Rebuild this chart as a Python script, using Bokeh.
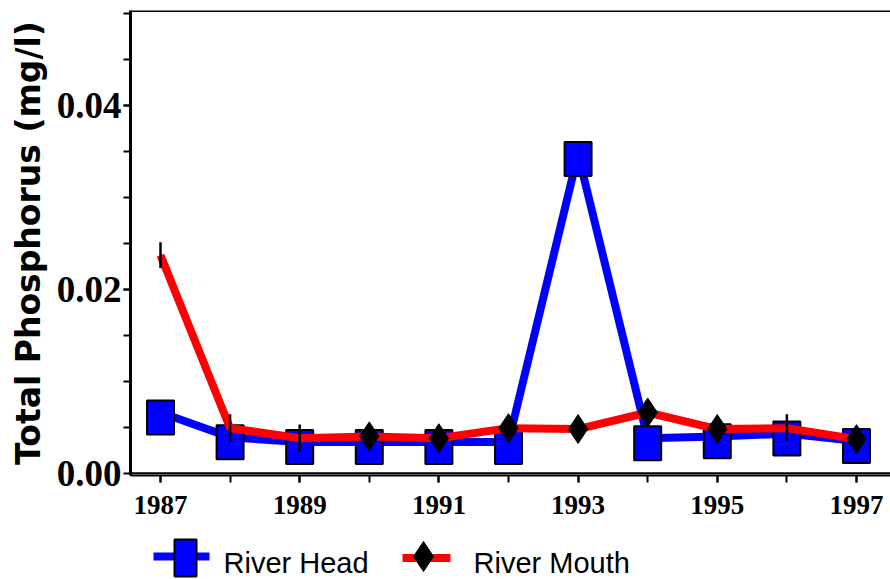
from bokeh.plotting import figure
from bokeh.models import Range1d, FixedTicker, Span
from bokeh.layouts import column
from bokeh.embed import file_html
from bokeh.resources import INLINE
from bokeh.core.properties import value

# ---- data ----
years = [1987, 1988, 1989, 1990, 1991, 1992, 1993, 1994, 1995, 1996, 1997]
river_head = [0.0066, 0.0039, 0.0034, 0.0034, 0.0034, 0.0034, 0.0347, 0.0038, 0.0040, 0.0043, 0.0035]
river_mouth = [0.0237, 0.0049, 0.0038, 0.0040, 0.0038, 0.0049, 0.0048, 0.0066, 0.0048, 0.0049, 0.0037]
mouth_err = [0.0014, 0.0015, 0.0015, 0.0, 0.0, 0.0, 0.0, 0.0, 0.0, 0.0015, 0.0]
mouth_diamond = [False, False, False, True, True, True, True, True, True, False, True]
x_label_years = [1987, 1989, 1991, 1993, 1995, 1997]
x_tick_labels = ["1987", "1989", "1991", "1993", "1995", "1997"]
y_tick_values = [0.0, 0.02, 0.04]
y_tick_labels = ["0.00", "0.02", "0.04"]
y_minor_values = [0.005, 0.01, 0.015, 0.02, 0.025, 0.03, 0.035, 0.04, 0.045, 0.05]
series_names = ["River Head", "River Mouth"]
y_title = "Total Phosphorus (mg/l)"

Y0, Y1 = -0.00025, 0.0503
X0, X1 = 1986.569, 1997.489
MARK_SHIFT = 0.00054

W = 890
H_MAIN = 530
H_LEG = 49

p = figure(width=W, height=H_MAIN, x_range=Range1d(X0, X1), y_range=Range1d(Y0, Y1),
           output_backend="svg", toolbar_location=None,
           min_border_left=130, min_border_right=0, min_border_top=10, min_border_bottom=55)
p.grid.visible = False
p.outline_line_color = None
p.background_fill_color = "white"

# x axis
xa = p.xaxis[0]
xa.ticker = FixedTicker(ticks=x_label_years, minor_ticks=years)
xa.major_label_overrides = {y: s for y, s in zip(x_label_years, x_tick_labels)}
xa.axis_line_width = 2
xa.major_tick_out = 7
xa.major_tick_in = 0
xa.minor_tick_out = 7
xa.minor_tick_in = 0
xa.major_tick_line_width = 2
xa.minor_tick_line_width = 2
xa.major_label_text_font = "Liberation Serif"
xa.major_label_text_font_style = "bold"
xa.major_label_text_font_size = "27px"
xa.major_label_text_color = "black"
xa.major_label_standoff = 13

# y axis
ya = p.yaxis[0]
ya.ticker = FixedTicker(ticks=y_tick_values, minor_ticks=y_minor_values)
ya.major_label_overrides = {v: s for v, s in zip(y_tick_values, y_tick_labels)}
ya.axis_line_width = 3
ya.major_tick_out = 7
ya.major_tick_in = 0
ya.minor_tick_out = 7
ya.minor_tick_in = 0
ya.major_tick_line_width = 2
ya.minor_tick_line_width = 2
ya.major_label_text_font = "Liberation Serif"
ya.major_label_text_font_style = "bold"
ya.major_label_text_font_size = "37px"
ya.major_label_text_color = "black"
ya.major_label_standoff = 2
ya.axis_label = y_title
ya.axis_label_text_font = "DejaVu Sans"
ya.axis_label_text_font_style = "bold"
ya.axis_label_text_font_size = "33px"
ya.axis_label_text_color = "black"
ya.axis_label_standoff = 6

# frame lines
p.add_layout(Span(location=Y1, dimension="width", line_color="black", line_width=3))
p.add_layout(Span(location=0.0, dimension="width", line_color="black", line_width=2))

p.extra_y_ranges = {"marks": Range1d(Y0 + MARK_SHIFT, Y1 + MARK_SHIFT)}

# River Head
p.line(years, river_head, line_color="#0000ff", line_width=8)
p.rect(years, river_head, width=27, height=34, width_units="screen", height_units="screen",
       fill_color="#0000ff", line_color="black", line_width=2, y_range_name="marks")

# River Mouth
p.line(years, river_mouth, line_color="#ff0000", line_width=8)
ex = [x for x, e in zip(years, mouth_err) if e > 0]
ey0 = [v - e for v, e in zip(river_mouth, mouth_err) if e > 0]
ey1 = [v + e for v, e in zip(river_mouth, mouth_err) if e > 0]
p.segment(x0=ex, y0=ey0, x1=ex, y1=ey1, line_color="black", line_width=2.5)
dx = [x for x, d in zip(years, mouth_diamond) if d]
dy = [v for v, d in zip(river_mouth, mouth_diamond) if d]
p.scatter(dx, dy, marker="diamond", size=29, fill_color="black", line_color="black")

# ---- legend strip below the chart (pixel coordinates of the page) ----
leg = figure(width=W, height=H_LEG, x_range=Range1d(130, 890), y_range=Range1d(579, 530),
             output_backend="svg", toolbar_location=None,
             min_border_left=130, min_border_right=0, min_border_top=0, min_border_bottom=0,
             x_axis_type=None, y_axis_type=None)
leg.grid.visible = False
leg.outline_line_color = None
leg.segment(x0=[153], y0=[556], x1=[209], y1=[556], line_color="#0000ff", line_width=8)
leg.rect([185], [557.5], width=22, height=37, fill_color="#0000ff", line_color="black", line_width=2)
leg.segment(x0=[402], y0=[557.5], x1=[450], y1=[557.5], line_color="#ff0000", line_width=8)
leg.scatter([423], [556], marker="diamond", size=30, fill_color="black", line_color="black")
leg.text(x=[223, 473], y=[562, 562], text=series_names, text_font=value("Liberation Sans"),
         text_font_size="29px", text_baseline="middle", text_align="left", text_color="black")

layout = column(p, leg)
open("out.html", "w").write(file_html(layout, INLINE))
